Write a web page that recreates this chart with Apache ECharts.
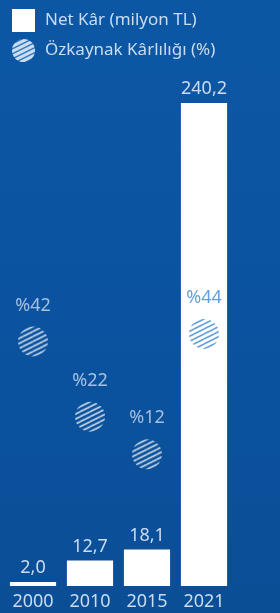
<!DOCTYPE html>
<html>
<head>
<meta charset="utf-8">
<script src="https://cdn.jsdelivr.net/npm/echarts@6/dist/echarts.min.js"></script>
<style>
  html, body { margin: 0; padding: 0; }
  #chart {
    width: 280px;
    height: 613px;
    background: linear-gradient(180deg, #0c57a4 0%, #0b53a0 50%, #0a4e96 100%);
  }
</style>
</head>
<body>
<div id="chart"></div>
<script>
var years = ["2000", "2010", "2015", "2021"];
var netKar = [2.0, 12.7, 18.1, 240.2];
var ozkaynak = [42, 22, 12, 44];

// stripes for the circles, scale undoes the symbol transform
function stripes(bg, line, lw, scale) {
  var c = document.createElement("canvas");
  var w = 10, h = 5;
  c.width = w;
  c.height = h;
  var ctx = c.getContext("2d");
  if (bg) {
    ctx.fillStyle = bg;
    ctx.fillRect(0, 0, w, h);
  }
  ctx.strokeStyle = line;
  ctx.lineWidth = lw;
  [-h, 0, h].forEach(function (dy) {
    ctx.beginPath();
    ctx.moveTo(0, h + dy);
    ctx.lineTo(w, dy);
    ctx.stroke();
  });
  var p = { image: c, repeat: "repeat" };
  if (scale) {
    p.scaleX = scale;
    p.scaleY = scale;
  }
  return p;
}

var txt = "#cadcf1";
var font = "Noto Sans";
var dotSize = 30;

var myChart = echarts.init(document.getElementById("chart"));
var option = {
  animation: false,
  textStyle: { fontFamily: font },
  legend: {
    orient: "vertical",
    left: 7,
    top: 4,
    itemWidth: 23,
    itemHeight: 23,
    itemGap: 7,
    textStyle: { color: txt, fontSize: 17, fontFamily: font, padding: [0, 0, 0, 5] },
    data: [
      { name: "Net Kâr (milyon TL)", icon: "rect" },
      {
        name: "Özkaynak Kârlılığı (%)",
        icon: "circle",
        itemStyle: { color: stripes("#ffffff", "#2f7fd0", 1.4) }
      }
    ]
  },
  grid: { left: 4.5, right: 47.5, top: 103, bottom: 27 },
  xAxis: {
    type: "category",
    data: years,
    axisLine: { show: false },
    axisTick: { show: false },
    axisLabel: { color: txt, fontSize: 18, margin: 7, fontFamily: font }
  },
  yAxis: [
    { type: "value", min: 0, max: 240.2, show: false },
    { type: "value", min: -23, max: 105.4, show: false }
  ],
  series: [
    {
      name: "Net Kâr (milyon TL)",
      type: "bar",
      data: netKar,
      barCategoryGap: "19%",
      itemStyle: { color: "#ffffff" },
      label: {
        show: true,
        position: "top",
        distance: 5,
        color: txt,
        fontSize: 18,
        fontFamily: font,
        formatter: function (p) {
          return p.value.toFixed(1).replace(".", ",");
        }
      }
    },
    {
      name: "Özkaynak Kârlılığı (%)",
      type: "scatter",
      yAxisIndex: 1,
      symbol: "circle",
      symbolSize: dotSize,
      data: ozkaynak.map(function (v, i) {
        var last = i === ozkaynak.length - 1;
        return {
          value: v,
          itemStyle: { color: stripes(null, last ? "#3b8ad9" : "#ffffff", 1.6, 2 / dotSize) },
          label: { color: last ? "#3b8ad9" : txt }
        };
      }),
      itemStyle: { color: stripes(null, "#ffffff", 1.6, 2 / dotSize) },
      label: {
        show: true,
        position: "top",
        distance: 12,
        fontSize: 18,
        fontFamily: font,
        formatter: function (p) {
          return "%" + p.value;
        }
      }
    }
  ]
};
myChart.setOption(option);
</script>
</body>
</html>
